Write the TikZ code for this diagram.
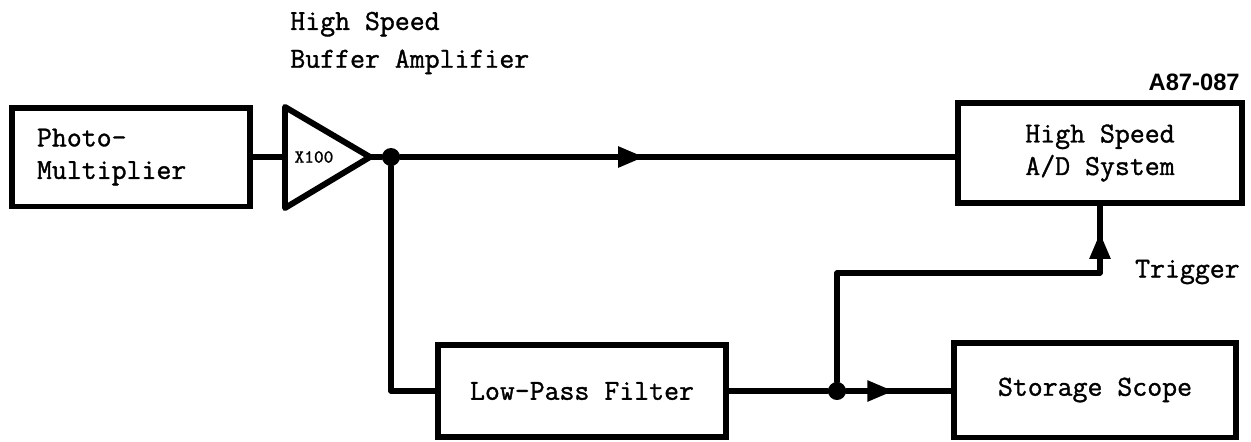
\documentclass[tikz,border=0pt]{standalone}
\usepackage{fontspec}
\newfontfamily\tagfont{Liberation Sans}
\newfontfamily\twfont{Latin Modern Mono}[FakeBold=1.2]
\usetikzlibrary{arrows.meta,decorations.markings}

\tikzset{
  block/.style={draw, line width=3.4pt, inner sep=0pt, align=center,
    font=\twfont\fontsize{16.5}{18.5}\selectfont},
  wire/.style={line width=3pt, line cap=round, line join=round},
  junction/.style={circle, fill, inner sep=0pt, minimum size=0.36cm},
  midarrow/.style={postaction={decorate}, decoration={markings,
    mark=at position #1 with {\arrow{Triangle[length=0.52cm, width=0.4cm]}}}},
  label/.style={font=\twfont\fontsize{16.5}{18.5}\selectfont, inner sep=0pt}
}

\begin{document}
\begin{tikzpicture}[x=0.02cm, y=-0.02cm]
  % frame (pixel grid of the reference, y downwards)
  \useasboundingbox (0,0) rectangle (1251,441);

  % blocks
  \node[block, minimum width=4.76cm, minimum height=1.98cm, text width=3.76cm,
    inner xsep=0.5cm, align=left] (pm) at (131,157) {Photo-\\Multiplier};
  \node[block, minimum width=5.7cm, minimum height=2cm] (ad) at (1100,153) {High Speed\\A/D System};
  \node[block, minimum width=5.78cm, minimum height=1.84cm] (lpf) at (582,391) {Low-Pass Filter};
  \node[block, minimum width=5.64cm, minimum height=1.9cm] (ss) at (1095,390) {Storage Scope};

  % buffer amplifier
  \draw[line width=3.4pt, line join=round] (285,107) -- (370,157) -- (285,208) -- cycle;
  \coordinate (ampin) at (285,157);
  \coordinate (ampout) at (370,157);
  \node[font=\twfont\fontsize{10.5}{12}\selectfont, inner sep=0pt] (gain) at (314,157) {X100};
  \node[label, anchor=west, align=left] (amplabel) at (290,43)
    {High Speed\\[3pt]Buffer Amplifier};

  % junctions
  \node[junction] (jtop) at (391,157) {};
  \node[junction] (jlow) at (837,391) {};
  \coordinate (trig) at (1100,273);

  % connectors
  \draw[wire] (pm.east |- ampin) -- (ampin);
  \draw[wire] (ampout) -- (jtop);
  \draw[wire, midarrow=0.44] (jtop) -- (jtop -| ad.west);
  \draw[wire] (jtop) |- (lpf.west);
  \draw[wire] (lpf.east) -- (jlow);
  \draw[wire, midarrow=0.45] (jlow) -- (jlow -| ss.west);
  \draw[wire] (jlow) |- (trig);
  \draw[wire, midarrow=0.6] (trig) -- (ad.south);

  % labels
  \node[label, anchor=east] (triglabel) at (1240,272) {Trigger};
  \node[font=\tagfont\bfseries\fontsize{13.5}{15}\selectfont, anchor=east, inner sep=0pt] (tag) at (1240,82) {A87-087};
\end{tikzpicture}
\end{document}
